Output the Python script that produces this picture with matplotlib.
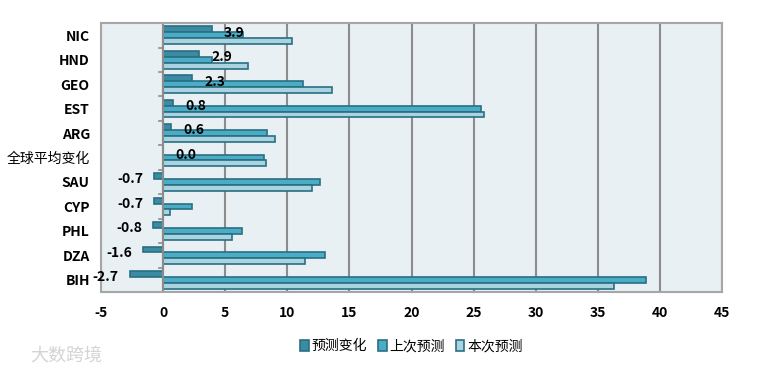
import numpy as np
import matplotlib.pyplot as plt

plt.rcParams['font.family'] = ['Noto Sans CJK SC', 'DejaVu Sans']
plt.rcParams['axes.unicode_minus'] = False

countries = ['NIC', 'HND', 'GEO', 'EST', 'ARG', '全球平均变化', 'SAU', 'CYP', 'PHL', 'DZA', 'BIH']
change = [3.9, 2.9, 2.3, 0.8, 0.6, 0.0, -0.7, -0.7, -0.8, -1.6, -2.7]
previous = [6.45, 3.9, 11.3, 25.6, 8.4, 8.15, 12.65, 2.35, 6.35, 13.05, 38.9]
current = [10.4, 6.8, 13.6, 25.8, 9.0, 8.25, 11.95, 0.55, 5.55, 11.45, 36.3]
series_names = ['预测变化', '上次预测', '本次预测']

fig = plt.figure(figsize=(7.57, 3.72), dpi=100)
ax = fig.add_axes([0.1334, 0.215, 0.8204, 0.723])
ax.set_facecolor('#e8f0f4')

y = np.arange(len(countries))
h = 0.24
edge = '#2a6f84'
ax.barh(y - h, change, height=h, color='#3b8ca3', edgecolor=edge, linewidth=1.2, label=series_names[0])
ax.barh(y, previous, height=h, color='#4bacc6', edgecolor=edge, linewidth=1.2, label=series_names[1])
ax.barh(y + h, current, height=h, color='#a9d3df', edgecolor=edge, linewidth=1.2, label=series_names[2])

for yi, v in zip(y, change):
    if v >= 0:
        ax.text(v + 1.0, yi - h * 0.45, f'{v:.1f}', ha='left', va='center', fontsize=10, fontweight='bold')
    else:
        ax.text(v - 0.9, yi - h * 0.45, f'{v:.1f}', ha='right', va='center', fontsize=10, fontweight='bold')

ax.set_xlim(-5, 45)
ax.set_ylim(len(countries) - 0.5, -0.5)
ax.set_xticks(range(-5, 50, 5))
ax.set_yticks(y)
ax.set_yticklabels(countries)
for lab in ax.get_yticklabels():
    if lab.get_text() != '全球平均变化':
        lab.set_fontweight('bold')
    else:
        lab.set_fontsize(9.5)
ax.tick_params(axis='y', length=0, labelsize=10, pad=8)
ax.tick_params(axis='x', length=0, labelsize=10, pad=10)
for lab in ax.get_xticklabels():
    lab.set_fontweight('bold')

ax.grid(axis='x', color='#8c8c8c', linewidth=1.5)
ax.set_axisbelow(True)
for s in ax.spines.values():
    s.set_color('#a6a6a6')
    s.set_linewidth(1.5)

# zero axis with small ticks between groups
ax.axvline(0, color='#8c8c8c', linewidth=1.5, zorder=1)
for b in np.arange(0.5, len(countries) - 0.5, 1):
    ax.plot([-0.35, 0], [b, b], color='#8c8c8c', linewidth=1.2, zorder=1)

ax.legend(loc='upper center', bbox_to_anchor=(0.5, -0.13), ncol=3, frameon=False,
          fontsize=10, handlelength=0.6, handleheight=0.9, handletextpad=0.2, columnspacing=0.8)

fig.text(0.04, 0.03, '大数跨境', fontsize=13, color='#d4d4d4')

fig.savefig('out.png', dpi=100)
